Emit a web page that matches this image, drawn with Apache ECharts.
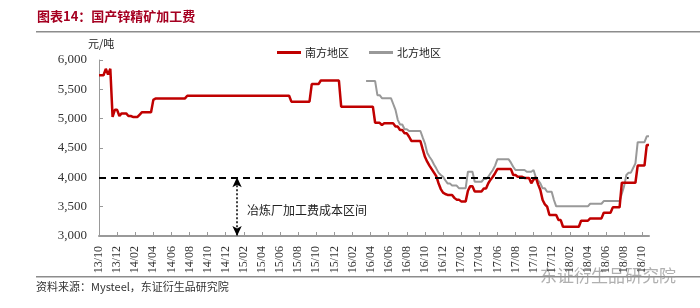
<!DOCTYPE html>
<html>
<head>
<meta charset="utf-8">
<script src="https://cdn.jsdelivr.net/npm/echarts@6/dist/echarts.min.js"></script>
<style>html,body{margin:0;padding:0;background:#fff;}#c{width:700px;height:308px;}</style>
</head>
<body>
<div id="c"></div>
<script>
// Month labels (x axis ticks are every 2 months); data is weekly (4 points per month)
const months = [
 '13/10','13/11','13/12',
 '14/01','14/02','14/03','14/04','14/05','14/06','14/07','14/08','14/09','14/10','14/11','14/12',
 '15/01','15/02','15/03','15/04','15/05','15/06','15/07','15/08','15/09','15/10','15/11','15/12',
 '16/01','16/02','16/03','16/04','16/05','16/06','16/07','16/08','16/09','16/10','16/11','16/12',
 '17/01','17/02','17/03','17/04','17/05','17/06','17/07','17/08','17/09','17/10','17/11','17/12',
 '18/01','18/02','18/03','18/04','18/05','18/06','18/07','18/08','18/09','18/10'
];
const weeksPerMonth = ['', '-2', '-3', '-4'];

// 南方地区 (元/吨), weekly
const south = [
 5740,5740,5740,5850,5750,5850,5030,5150,5150,5045,5090,5090,5090,5045,5045,5030,
 5030,5030,5070,5110,5110,5110,5110,5110,5320,5345,5345,5345,5345,5345,5345,5345,
 5345,5345,5345,5345,5345,5345,5345,5390,5390,5390,5390,5390,5390,5390,5390,5390,
 5390,5390,5390,5390,5390,5390,5390,5390,5390,5390,5390,5390,5390,5390,5390,5390,
 5390,5390,5390,5390,5390,5390,5390,5390,5390,5390,5390,5390,5390,5390,5390,5390,
 5390,5390,5390,5390,5390,5290,5290,5290,5290,5290,5290,5290,5290,5290,5590,5590,
 5590,5590,5650,5650,5650,5650,5650,5650,5650,5650,5650,5205,5205,5205,5205,5205,
 5205,5205,5205,5205,5205,5205,5205,5205,5205,5205,4930,4930,4930,4890,4920,4920,
 4920,4920,4920,4865,4865,4807,4807,4750,4750,4692,4620,4620,4620,4620,4620,4480,
 4350,4266,4200,4140,4080,4020,3900,3800,3740,3716,3700,3700,3700,3650,3620,3620,
 3590,3590,3590,3770,3850,3850,3760,3760,3760,3760,3810,3810,3900,3960,4010,4070,
 4140,4140,4140,4140,4140,4140,4140,4040,4040,4010,4010,4010,3990,3990,3990,3900,
 3960,4000,3880,3784,3613,3540,3500,3358,3358,3358,3358,3272,3272,3158,3158,3158,
 3158,3158,3158,3158,3158,3260,3260,3260,3260,3300,3300,3300,3300,3300,3300,3397,
 3397,3397,3397,3488,3488,3488,3488,3908,3908,3908,3908,3908,3908,3908,4200,4200,
 4200,4200,4550,4550
];

// 北方地区 (元/吨), weekly, starts at week '16/03-3'
const northStart = '16/03-3';
const north = [
 5640,5640,5640,5640,5640,5400,5400,5350,5350,5350,5350,5350,5250,5150,4980,4900,
 4900,4820,4820,4790,4790,4790,4790,4790,4790,4680,4580,4420,4350,4295,4220,4153,
 4080,4040,4010,3950,3897,3897,3860,3860,3860,3815,3815,3815,3815,4096,4096,4096,
 3925,3925,3925,3925,3970,3970,4010,4070,4125,4200,4307,4307,4307,4307,4307,4307,
 4250,4181,4125,4125,4125,4125,4125,4096,4096,4096,4125,4000,3950,3897,3812,3812,
 3755,3755,3755,3613,3505,3505,3505,3505,3505,3505,3505,3505,3505,3505,3505,3505,
 3505,3505,3505,3550,3550,3550,3550,3550,3550,3596,3596,3596,3596,3596,3596,3596,
 3596,3720,3850,4040,4080,4080,4160,4238,4600,4600,4600,4600,4700,4700
];

// 成本线 & 区间
const costLine = 4000;
const costLow = 3000;
const costLineEnd = '18/08-3';
const costArrowAt = '15/01-2';

const categories = months.flatMap(m => weeksPerMonth.map(s => m + s));
const northData = new Array(categories.indexOf(northStart)).fill(null).concat(north);

const chart = echarts.init(document.getElementById('c'), null, {renderer: 'canvas'});
const serif = '"Liberation Serif","Times New Roman",serif';
const cjk = '"Noto Sans CJK SC","Noto Sans",sans-serif';

chart.setOption({
  animation: false,
  backgroundColor: '#fff',
  grid: {left: 99, right: 51, top: 60, bottom: 72, containLabel: false},
  legend: {
    left: 272, top: 42, itemWidth: 24, itemHeight: 3, itemGap: 20, icon: 'rect',
    textStyle: {fontFamily: cjk, fontSize: 11, color: '#222', padding: [0,0,0,-1]},
    data: ['南方地区', '北方地区']
  },
  xAxis: {
    type: 'category', data: categories, boundaryGap: false,
    axisLine: {lineStyle: {color: '#999', width: 2}},
    axisTick: {inside: true, length: 4, interval: 7, lineStyle: {color: '#999'}},
    axisLabel: {interval: 7, rotate: 90, margin: 10, fontFamily: serif, fontSize: 12, color: '#333'},
    splitLine: {show: false}
  },
  yAxis: {
    type: 'value', min: 3000, max: 6000, interval: 500,
    axisLine: {show: true, lineStyle: {color: '#999', width: 1}},
    axisTick: {show: true, inside: true, length: 4, lineStyle: {color: '#999'}},
    axisLabel: {margin: 12, fontFamily: serif, fontSize: 13, color: '#333',
      formatter: v => v.toLocaleString('en-US')},
    splitLine: {show: false}
  },
  series: [
    {
      name: '南方地区', type: 'line', data: south, showSymbol: false, symbol: 'none',
      lineStyle: {color: '#C00000', width: 2.5}, itemStyle: {color: '#C00000'}, z: 3,
      markLine: {
        silent: true, animation: false, label: {show: false},
        data: [
          [{coord: [categories[0], costLine], symbol: 'none', lineStyle: {color: '#000', width: 2, type: [7, 5]}},
           {coord: [costLineEnd, costLine], symbol: 'none'}],
          [{coord: [costArrowAt, costLine], symbol: 'arrow', symbolSize: [7, 10], lineStyle: {color: '#000', width: 1.5, type: [2, 2]}},
           {coord: [costArrowAt, costLow], symbol: 'arrow', symbolSize: [7, 10]}]
        ]
      }
    },
    {
      name: '北方地区', type: 'line', data: northData, showSymbol: false, symbol: 'none',
      lineStyle: {color: '#999999', width: 2}, itemStyle: {color: '#999999'}, z: 2
    }
  ],
  graphic: [
    {type: 'text', left: 37, top: 10, style: {text: '图表14：国产锌精矿加工费', fill: '#A50021', font: 'bold 13px ' + cjk}},
    {type: 'rect', shape: {x: 36, y: 31, width: 664, height: 1.5}, style: {fill: '#8c8c8c'}},
    {type: 'text', left: 88, top: 38, style: {text: '元/吨', fill: '#222', font: '11px ' + cjk}},
    {type: 'text', left: 247, top: 204, style: {text: '冶炼厂加工费成本区间', fill: '#222', font: '12px ' + cjk}},
    {type: 'rect', shape: {x: 36, y: 276, width: 664, height: 1.5}, style: {fill: '#8c8c8c'}},
    {type: 'text', left: 36, top: 281, style: {text: '资料来源：Mysteel，东证衍生品研究院', fill: '#333', font: '11px ' + cjk}},
    {type: 'text', left: 540, top: 267, style: {text: '东证衍生品研究院', fill: 'rgba(150,150,150,0.75)', font: '17px ' + cjk}}
  ]
});
</script>
</body>
</html>
